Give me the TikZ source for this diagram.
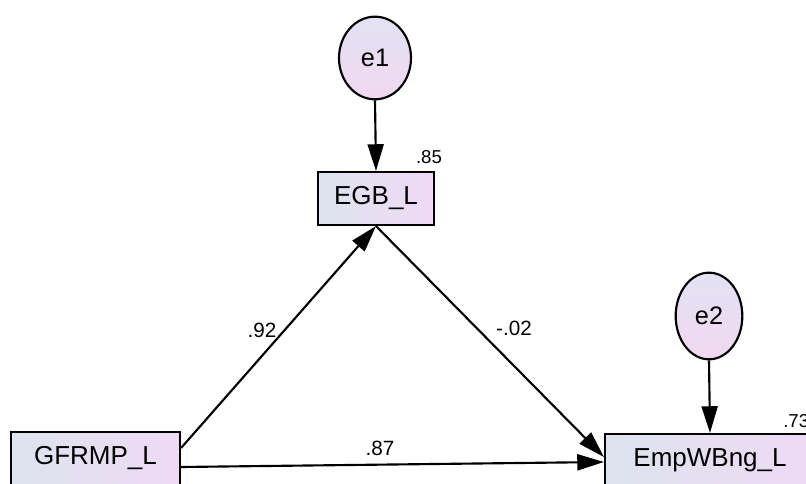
\documentclass[tikz,border=0pt]{standalone}
\usepackage{fontspec}
\setmainfont{Liberation Sans}
\usetikzlibrary{shapes.geometric,arrows.meta,calc}
\definecolor{boxL}{RGB}{221,228,238}
\definecolor{boxR}{RGB}{239,217,245}
\definecolor{ellT}{RGB}{226,226,244}
\definecolor{ellB}{RGB}{241,216,240}
\tikzset{
  obsbox/.style={draw=black, line width=1.6pt, rectangle, left color=boxL, right color=boxR,
     minimum height=39.75pt, inner sep=0pt, font=\fontsize{19.5}{22}\selectfont},
  errell/.style={draw=black, line width=1.6pt, ellipse, top color=ellT, bottom color=ellB,
     minimum width=54pt, minimum height=62pt, inner sep=0pt, font=\fontsize{19}{22}\selectfont},
  path/.style={line width=1.6pt, -{Triangle[length=20pt,width=12pt]}},
  coef/.style={font=\fontsize{15.5}{18}\selectfont, inner sep=0pt},
  rsq/.style={font=\fontsize{14}{16}\selectfont, inner sep=0pt}
}
\begin{document}
\begin{tikzpicture}[x=0.75pt,y=-0.75pt]
\clip (0,0) rectangle (806,484);
\fill[white] (0,0) rectangle (806,484);
\node[errell] (e1) at (375,58) {e1};
\node[errell, minimum width=50pt, minimum height=65pt] (e2) at (709,316) {e2};
\node[obsbox, minimum width=87pt] (egb) at (376,198.5) {EGB\_L};
\node[obsbox, minimum width=126.75pt] (gfr) at (95.5,458.5) {GFRMP\_L};
\node[obsbox, minimum width=157.5pt] (emp) at (710,460.5) {EmpWBng\_L};
\draw[path] (e1.south) -- (egb.north);
\draw[path] (e2.south) -- (emp.north);
\draw[path] ($(gfr.east)+(0,-10.5)$) -- (egb.south);
\draw[path] (egb.south) -- ($(emp.west)+(0,-3.5)$);
\draw[path] ($(gfr.east)+(0,8.5)$) -- ($(emp.west)+(0,1.5)$);
\node[rsq] (r1) at (429,157) {.85};
\node[rsq, anchor=west] (r2) at (783,421) {.73};
\node[coef] (c1) at (262,330) {.92};
\node[coef] (c2) at (514,328) {-.02};
\node[coef] (c3) at (380,448) {.87};
\end{tikzpicture}
\end{document}
